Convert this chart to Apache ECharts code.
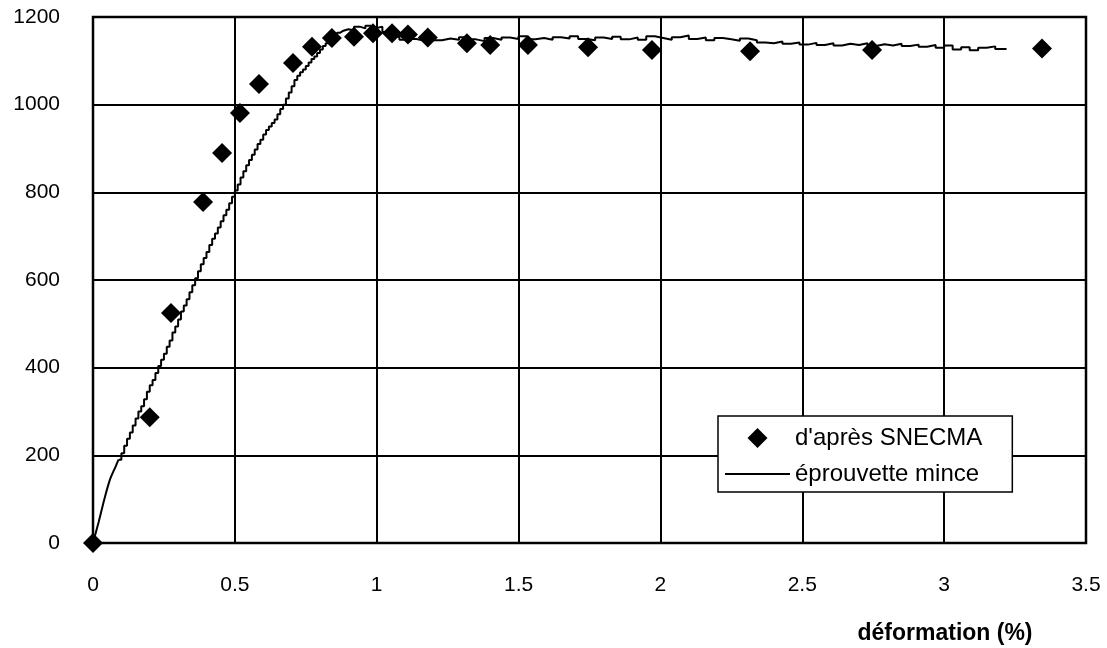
<!DOCTYPE html>
<html>
<head>
<meta charset="utf-8">
<script src="https://cdn.jsdelivr.net/npm/echarts@6/dist/echarts.min.js"></script>
<style>
  html, body { margin: 0; padding: 0; background: #fff; }
  #chart { width: 1107px; height: 648px; }
</style>
</head>
<body>
<div id="chart"></div>
<script>
// points SNECMA (déformation %, contrainte)
var snecmaX = [0, 0.2, 0.275, 0.388, 0.455, 0.518, 0.585, 0.705, 0.772, 0.842, 0.92, 0.987, 1.054, 1.11, 1.18, 1.318, 1.40, 1.533, 1.745, 1.97, 2.316, 2.746, 3.345];
var snecmaY = [0, 287, 525, 778, 890, 981, 1047, 1095, 1132, 1152, 1155, 1163, 1163, 1160, 1153, 1140, 1136, 1136, 1131, 1125, 1122, 1125, 1128];

// courbe éprouvette mince : début (sans paliers)
var debutX = [0, 0.02, 0.04, 0.06, 0.08, 0.09];
var debutY = [0, 48, 100, 145, 175, 190];

// courbe éprouvette mince : suite (en paliers)
var mainceX = [0.09, 0.1, 0.11, 0.12, 0.13, 0.14, 0.15, 0.16, 0.17, 0.18, 0.19, 0.2, 0.21, 0.22, 0.23,
  0.24, 0.25, 0.26, 0.27, 0.28, 0.29, 0.3, 0.31, 0.32, 0.33, 0.34, 0.35, 0.36, 0.37, 0.38, 0.39, 0.4, 0.41, 0.42, 0.43,
  0.44, 0.45, 0.46, 0.47, 0.48, 0.49, 0.5, 0.51, 0.52, 0.53, 0.54, 0.55, 0.56, 0.57, 0.58, 0.59, 0.6, 0.61, 0.62, 0.63,
  0.64, 0.65, 0.66, 0.67, 0.68, 0.69, 0.7, 0.71, 0.72, 0.73, 0.74, 0.75, 0.76, 0.77, 0.78, 0.79, 0.8, 0.81, 0.82, 0.83,
  0.84, 0.85, 0.86, 0.87, 0.88, 0.9, 0.92, 0.94, 0.96, 0.98, 1.0, 1.02, 1.04, 1.06, 1.08, 1.1, 1.12, 1.14, 1.17, 1.2,
  1.23, 1.26, 1.29, 1.32, 1.35, 1.38, 1.41, 1.44, 1.47, 1.5, 1.53, 1.56, 1.59, 1.62, 1.65, 1.68, 1.71, 1.74, 1.77, 1.8,
  1.83, 1.86, 1.89, 1.92, 1.95, 1.98, 2.01, 2.04, 2.07, 2.1, 2.13, 2.16, 2.19, 2.22, 2.25, 2.28, 2.31, 2.34, 2.37, 2.4,
  2.43, 2.46, 2.49, 2.52, 2.55, 2.58, 2.61, 2.64, 2.67, 2.7, 2.73, 2.76, 2.79, 2.82, 2.85, 2.88, 2.91, 2.94, 2.97, 3.0,
  3.03, 3.06, 3.09, 3.12, 3.15, 3.18, 3.22];
var mainceY = [190, 205, 222, 238, 252, 268, 284, 300, 312, 328, 345, 360, 372, 388, 404,
  418, 432, 448, 462, 480, 494, 510, 528, 542, 556, 572, 588, 604, 620, 636, 650, 664, 680, 694, 706,
  720, 734, 748, 760, 775, 790, 804, 818, 834, 848, 862, 874, 886, 898, 910, 920, 932, 942, 950, 958,
  966, 978, 990, 1000, 1014, 1028, 1042, 1056, 1066, 1074, 1080, 1088, 1096, 1104, 1110, 1118, 1126, 1134, 1140, 1146,
  1152, 1158, 1164, 1168, 1172, 1170, 1178, 1174, 1180, 1175, 1178, 1166, 1162, 1155, 1148, 1145, 1150, 1146, 1152, 1147,
  1151, 1148, 1154, 1149, 1145, 1152, 1148, 1153, 1150, 1156, 1149, 1152, 1148, 1154, 1151, 1156, 1150, 1147, 1153, 1150,
  1155, 1149, 1153, 1148, 1156, 1152, 1148, 1154, 1158, 1150, 1153, 1147, 1152, 1149, 1146, 1151, 1147, 1142, 1140, 1144,
  1139, 1142, 1137, 1141, 1136, 1140, 1135, 1139, 1136, 1140, 1134, 1138, 1135, 1139, 1134, 1137, 1132, 1136, 1130, 1135,
  1126, 1131, 1124, 1130, 1133, 1127, 1127];

var xTicks = ['0', '0.5', '1', '1.5', '2', '2.5', '3', '3.5'];

var font = '"Liberation Sans", Arial, sans-serif';
var myChart = echarts.init(document.getElementById('chart'));

function pairs(xs, ys) {
  return xs.map(function (x, i) { return [x, ys[i]]; });
}

myChart.setOption({
  animation: false,
  backgroundColor: '#fff',
  grid: {
    left: 93, right: 21, top: 17, bottom: 105,
    show: true, borderColor: '#000', borderWidth: 2.5, backgroundColor: 'transparent'
  },
  xAxis: {
    type: 'value', min: 0, max: 3.5, interval: 0.5,
    axisLine: { show: false },
    axisTick: { show: false },
    axisLabel: {
      margin: 32, color: '#000', fontSize: 21, fontFamily: font,
      formatter: function (v) { return xTicks[Math.round(v / 0.5)]; }
    },
    splitLine: { show: true, lineStyle: { color: '#000', width: 2 } }
  },
  yAxis: {
    type: 'value', min: 0, max: 1200, interval: 200,
    axisLine: { show: false },
    axisTick: { show: false },
    axisLabel: {
      margin: 33, color: '#000', fontSize: 21, fontFamily: font,
      formatter: function (v) { return String(v); }
    },
    splitLine: { show: true, lineStyle: { color: '#000', width: 2 } }
  },
  legend: {
    left: 718, top: 416,
    orient: 'vertical',
    itemWidth: 65, itemHeight: 20, itemGap: 12,
    padding: [10, 30, 6, 7],
    backgroundColor: '#fff', borderColor: '#000', borderWidth: 1.5, borderRadius: 0,
    textStyle: { color: '#000', fontSize: 24, fontFamily: font, lineHeight: 20 },
    data: [
      { name: "d'après SNECMA", icon: 'path://M0,10L0.01,10L0,10.01Z M22.5,10L32.5,0L42.5,10L32.5,20Z M65,10L64.99,10L65,10.01Z' },
      { name: 'éprouvette mince', icon: 'path://M0,0L0.01,0L0,0.01Z M0,9L65,9L65,11L0,11Z M65,20L64.99,20L65,19.99Z' }
    ]
  },
  graphic: [{
    type: 'text', x: 945, y: 634,
    style: {
      text: 'déformation (%)', fill: '#000', font: 'bold 23px ' + font,
      textAlign: 'center', textVerticalAlign: 'middle'
    }
  }],
  series: [
    {
      name: 'éprouvette mince',
      type: 'line',
      symbol: 'none',
      smooth: 0.3,
      data: pairs(debutX, debutY),
      lineStyle: { color: '#000', width: 2 },
      itemStyle: { color: '#000' },
      z: 3
    },
    {
      name: 'éprouvette mince',
      type: 'line',
      step: 'end',
      symbol: 'none',
      data: pairs(mainceX, mainceY),
      lineStyle: { color: '#000', width: 2 },
      itemStyle: { color: '#000' },
      z: 3
    },
    {
      name: "d'après SNECMA",
      type: 'scatter',
      symbol: 'diamond',
      symbolSize: 20,
      data: pairs(snecmaX, snecmaY),
      itemStyle: { color: '#000', opacity: 1 },
      z: 4
    }
  ]
});
</script>
</body>
</html>
